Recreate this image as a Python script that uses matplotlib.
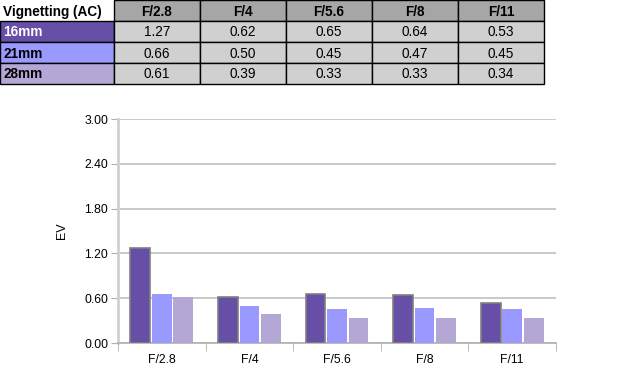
import matplotlib.pyplot as plt
import numpy as np
from matplotlib.patches import Rectangle

plt.rcParams['font.family'] = ['Liberation Sans', 'DejaVu Sans']

# data
apertures = ['F/2.8', 'F/4', 'F/5.6', 'F/8', 'F/11']
lenses = ['16mm', '21mm', '28mm']
v16 = [1.27, 0.62, 0.65, 0.64, 0.53]
v21 = [0.66, 0.50, 0.45, 0.47, 0.45]
v28 = [0.61, 0.39, 0.33, 0.33, 0.34]
colors = ['#674ea7', '#9999ff', '#b4a7d6']
yticks = [0.0, 0.6, 1.2, 1.8, 2.4, 3.0]

W, H = 630, 385
fig = plt.figure(figsize=(W/100, H/100), dpi=100)

# table drawn in pixel coords on an overlay axes
tab = fig.add_axes([0, 0, 1, 1])
tab.set_xlim(0, W)
tab.set_ylim(H, 0)
tab.axis('off')

col_x = [0, 114, 200, 286, 372, 458, 544]
row_y = [0, 21, 42, 63, 84]

tab.text(3, 12, 'Vignetting (AC)', fontsize=9.8, fontweight='bold', va='center', ha='left')
for j, ap in enumerate(apertures):
    x0, x1 = col_x[j+1], col_x[j+2]
    tab.add_patch(Rectangle((x0, row_y[0]), x1-x0, row_y[1]-row_y[0],
                            facecolor='#a6a6a6', edgecolor='black', lw=1))
    tab.text((x0+x1)/2, 12, ap, fontsize=9.8, fontweight='bold', ha='center', va='center')

rows = [v16, v21, v28]
for i, (name, vals) in enumerate(zip(lenses, rows)):
    y0, y1 = row_y[i+1], row_y[i+2]
    tab.add_patch(Rectangle((0, y0), col_x[1], y1-y0, facecolor=colors[i],
                            edgecolor='black', lw=1))
    tab.text(3, (y0+y1)/2+1, name, fontsize=9.8, fontweight='bold', va='center',
             color='white' if i == 0 else 'black')
    for j, v in enumerate(vals):
        x0, x1 = col_x[j+1], col_x[j+2]
        tab.add_patch(Rectangle((x0, y0), x1-x0, y1-y0, facecolor='#d0d0d0',
                                edgecolor='black', lw=1))
        tab.text((x0+x1)/2, (y0+y1)/2+1, '%.2f' % v, fontsize=9.8, ha='center', va='center')

# chart
left, right, top, bottom = 118, 556, 119, 343
ax = fig.add_axes([left/W, 1-bottom/H, (right-left)/W, (bottom-top)/H])
x = np.arange(len(apertures))
bw = 0.245
for k, vals in enumerate(rows):
    ax.bar(x + (k-1)*bw, vals, width=bw*0.92, color=colors[k],
           edgecolor='#808080' if k == 0 else colors[k], lw=1.2 if k == 0 else 0, zorder=3)

ax.set_xlim(-0.5, len(apertures)-0.5)
ax.set_ylim(0, 3.0)
ax.set_yticks(yticks)
ax.set_yticklabels(['%.2f' % t for t in yticks], fontsize=8.8)
ax.set_xticks(x)
ax.set_xticklabels(apertures, fontsize=8.8)
ax.set_xticks(np.arange(len(apertures)+1)-0.5, minor=True)
ax.tick_params(axis='x', which='major', length=0, pad=8)
ax.tick_params(axis='x', which='minor', length=6, color='#b0b0b0')
ax.tick_params(axis='y', length=5, color='#b0b0b0', pad=2)
ax.grid(axis='y', color='#c0c0c0', lw=1.2, zorder=0)
for s in ['top', 'right']:
    ax.spines[s].set_visible(False)
ax.spines['left'].set_color('#d0d0d0')
ax.spines['left'].set_linewidth(2)
ax.spines['bottom'].set_color('#b0b0b0')
ax.spines['bottom'].set_linewidth(1.2)
ax.set_ylabel('EV', fontsize=9, labelpad=12)

fig.savefig('out.png', dpi=100)
